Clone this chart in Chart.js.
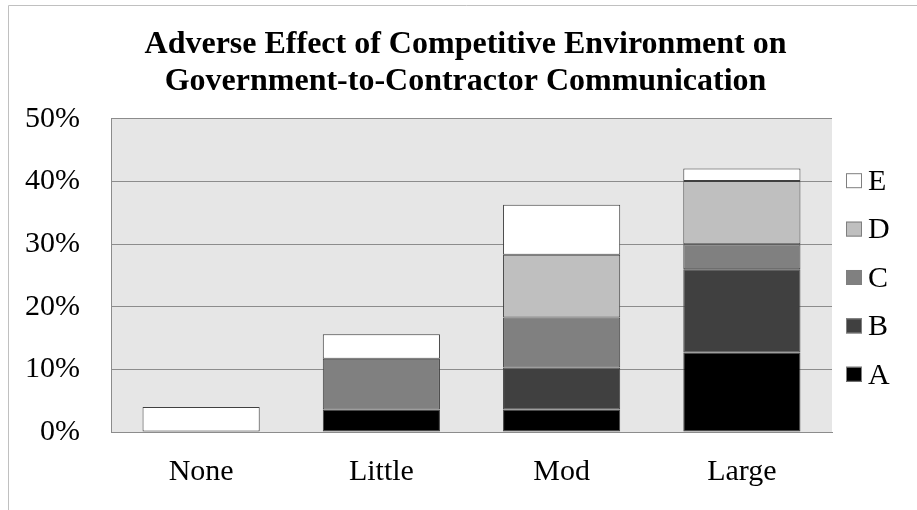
<!DOCTYPE html>
<html>
<head>
<meta charset="utf-8">
<script src="https://cdn.jsdelivr.net/npm/chart.js@4/dist/chart.umd.min.js"></script>
<style>
  html, body { margin: 0; padding: 0; background: #fff; overflow: hidden; }
  #wrap { position: relative; width: 923px; height: 510px; }
</style>
</head>
<body>
<div id="wrap"><canvas id="myChart"></canvas></div>
<script>
// Adverse effect of competitive environment, share of responses per level
let categories = ['None', 'Little', 'Mod', 'Large'];
let seriesA = [null, 3.6, 3.6, 12.7];
let seriesB = [null, null, 6.7, 13.3];
let seriesC = [null, 8.1, 8.0, 4.0];
let seriesD = [null, null, 10.0, 10.1];
let seriesE = [4.0, 3.9, 8.0, 2.0];
let seriesNames = ['A', 'B', 'C', 'D', 'E'];
let seriesColors = ['#000000', '#404040', '#808080', '#bfbfbf', '#ffffff'];
let titleLines = ['Adverse Effect of Competitive Environment on', 'Government-to-Contractor Communication'];

const serif = "'Liberation Serif', 'Times New Roman', serif";

// light grey plot background + outer frame
const backdrop = {
    id: 'backdrop',
    beforeDraw(chart) {
        const {ctx, chartArea} = chart;
        ctx.save();
        ctx.strokeStyle = '#c0c0c0';
        ctx.lineWidth = 1;
        ctx.beginPath();
        ctx.moveTo(8.5, 520);
        ctx.lineTo(8.5, 5.5);
        ctx.lineTo(1000, 5.5);
        ctx.stroke();
        ctx.fillStyle = '#e6e6e6';
        ctx.fillRect(chartArea.left, chartArea.top, chartArea.right - chartArea.left, chartArea.bottom - chartArea.top);
        ctx.restore();
    }
};

// legend on the right, E on top like the original
const sideLegend = {
    id: 'sideLegend',
    afterDraw(chart) {
        const {ctx, chartArea} = chart;
        const sets = chart.data.datasets;
        const step = 48.4;
        const mid = (chartArea.top + chartArea.bottom) / 2 + 2;
        ctx.save();
        ctx.font = '30px ' + serif;
        ctx.textBaseline = 'middle';
        ctx.textAlign = 'left';
        for (let i = 0; i < sets.length; i++) {
            const ds = sets[sets.length - 1 - i];
            const cy = mid + (i - (sets.length - 1) / 2) * step;
            const x = chartArea.right + 14;
            ctx.fillStyle = ds.backgroundColor;
            ctx.fillRect(x, cy - 7.5, 16, 15);
            ctx.strokeStyle = '#7f7f7f';
            ctx.lineWidth = 1;
            ctx.strokeRect(x + 0.5, cy - 7, 15, 14);
            ctx.fillStyle = '#000';
            ctx.fillText(ds.label, x + 22, cy + 1.5);
        }
        ctx.restore();
    }
};

let allSeries = [seriesA, seriesB, seriesC, seriesD, seriesE];
const ctx = document.getElementById('myChart').getContext('2d');
const myChart = new Chart(ctx, {
    type: 'bar',
    data: {
        labels: categories,
        datasets: allSeries.map((vals, i) => ({
            label: seriesNames[i],
            data: vals,
            backgroundColor: seriesColors[i],
            borderColor: '#404040',
            borderWidth: 1,
            borderSkipped: false,
            barPercentage: 0.65,
            categoryPercentage: 1,
        }))
    },
    options: {
        responsive: true,
        maintainAspectRatio: false,
        animation: false,
        layout: { padding: { left: 8, right: 0, top: 0, bottom: 0 } },
        plugins: {
            legend: { display: false },
            tooltip: { enabled: false },
            title: {
                display: true,
                text: titleLines,
                color: '#000',
                font: { family: serif, size: 32, weight: 'bold', lineHeight: 1.156 },
                padding: { top: 26, bottom: 19 }
            }
        },
        scales: {
            x: {
                stacked: true,
                grid: { display: false, drawTicks: false },
                border: { display: true, color: '#8c8c8c' },
                ticks: { color: '#000', font: { family: serif, size: 30 }, padding: 22 },
                afterFit: s => { s.height = 78; }
            },
            y: {
                stacked: true,
                min: 0,
                max: 50,
                grid: { color: '#8c8c8c', drawTicks: false },
                border: { display: true, color: '#8c8c8c' },
                ticks: {
                    stepSize: 10,
                    color: '#000',
                    font: { family: serif, size: 30 },
                    padding: 31,
                    callback: v => v + '%'
                },
                afterFit: s => { s.width = 103; }
            },
            spare: {
                position: 'right',
                display: true,
                grid: { display: false, drawTicks: false },
                border: { display: false },
                ticks: { display: false },
                afterFit: s => { s.width = 91; }
            }
        }
    },
    plugins: [backdrop, sideLegend]
});
</script>
</body>
</html>
